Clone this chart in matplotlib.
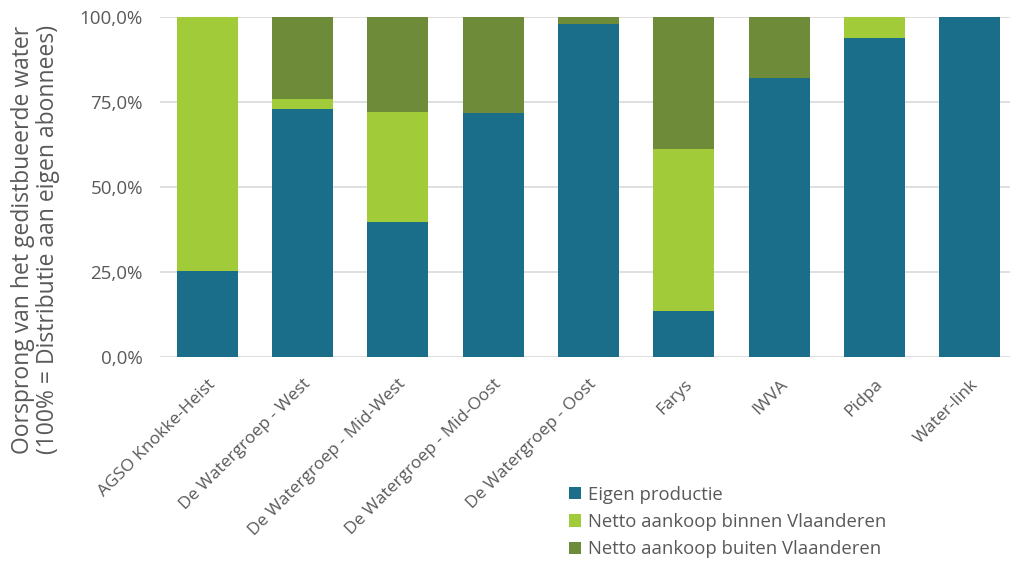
import numpy as np
import matplotlib
matplotlib.use('Agg')
import matplotlib.pyplot as plt
from matplotlib.ticker import FuncFormatter

plt.rcParams['font.family'] = ['Open Sans', 'DejaVu Sans']

# ===data (aandeel in %)
bedrijven = ['AGSO Knokke-Heist', 'De Watergroep - West', 'De Watergroep - Mid-West',
             'De Watergroep - Mid-Oost', 'De Watergroep - Oost', 'Farys', 'IWVA', 'Pidpa', 'Water-link']
eigen_productie = [25.4, 73.0, 39.6, 71.7, 98.0, 13.5, 82.1, 93.8, 100.0]
aankoop_binnen = [74.6, 2.9, 32.4, 0.0, 0.0, 47.5, 0.0, 6.2, 0.0]
aankoop_buiten = [0.0, 24.1, 28.0, 28.3, 2.0, 39.0, 17.9, 0.0, 0.0]
reeksen = ['Eigen productie', 'Netto aankoop binnen Vlaanderen', 'Netto aankoop buiten Vlaanderen']
kleuren = ['#1a6e8a', '#a2cb3a', '#6e8b3a']
tekstkleur = '#595959'

fig = plt.figure(figsize=(10.1, 5.62), dpi=100)
ax = fig.add_axes([0.158, 0.365, 0.842, 0.605])

x = np.arange(len(bedrijven))
bottom = np.zeros(len(bedrijven))
for naam, waarden, kleur in zip(reeksen, [eigen_productie, aankoop_binnen, aankoop_buiten], kleuren):
    ax.bar(x, waarden, width=0.64, bottom=bottom, color=kleur, label=naam, zorder=3)
    bottom += np.array(waarden)

ax.set_xlim(-0.5, 8.42)
ax.set_ylim(0, 100)
ax.set_yticks([0, 25, 50, 75, 100])
ax.yaxis.set_major_formatter(FuncFormatter(lambda v, p: '{:.1f}%'.format(v).replace('.', ',')))
ax.grid(axis='y', color='#d9d9d9', linewidth=1.2, zorder=0)
for s in ax.spines.values():
    s.set_visible(False)
ax.tick_params(axis='both', length=0, colors=tekstkleur)
ax.tick_params(axis='y', pad=12, labelsize=13.5)
ax.set_xticks(x)
ax.set_xticklabels(bedrijven, rotation=45, ha='right', rotation_mode='anchor')
ax.tick_params(axis='x', pad=14, labelsize=12.5)
ax.set_ylabel('Oorsprong van het gedistbueerde water\n(100% = Distributie aan eigen abonnees)',
              fontsize=16.5, color=tekstkleur, linespacing=1.05)
ax.yaxis.set_label_coords(-0.117, 0.345)

leg = ax.legend(loc='upper left', bbox_to_anchor=(0.462, -0.33), frameon=False, fontsize=13.3,
                handlelength=0.65, handleheight=0.65, handletextpad=0.35, labelspacing=0.5,
                labelcolor=tekstkleur)

plt.savefig('out.png', dpi=100)
